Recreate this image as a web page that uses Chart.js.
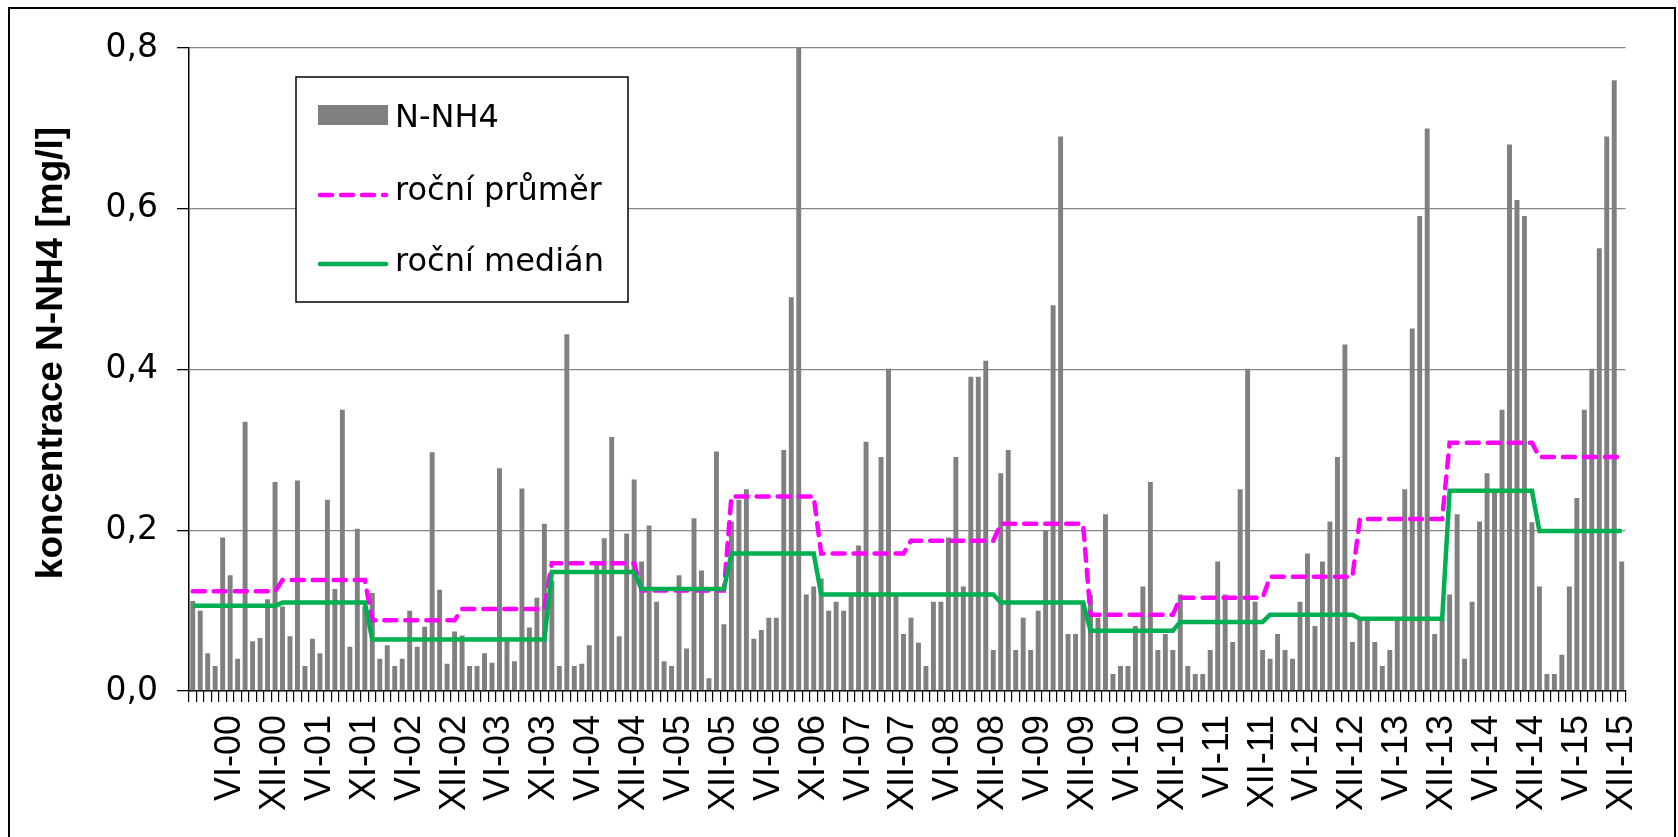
<!DOCTYPE html>
<html>
<head>
<meta charset="utf-8">
<script src="https://cdn.jsdelivr.net/npm/chart.js@4.4.1/dist/chart.umd.min.js"></script>
<style>
  html, body { margin: 0; padding: 0; background: #fff; }
</style>
</head>
<body>
<canvas id="c" width="1678" height="837"></canvas>
<script>
// ---- data: monthly N-NH4, 2000-2015 (12 per row) ----
const nh4 = [
  0.112, 0.100, 0.047, 0.031, 0.191, 0.144, 0.040, 0.335, 0.062, 0.066, 0.114, 0.260, // 2000
  0.105, 0.068, 0.262, 0.031, 0.065, 0.047, 0.238, 0.127, 0.350, 0.055, 0.202, 0.105, // 2001
  0.122, 0.040, 0.057, 0.031, 0.040, 0.100, 0.055, 0.080, 0.297, 0.126, 0.034, 0.074, // 2002
  0.069, 0.031, 0.031, 0.047, 0.035, 0.277, 0.062, 0.037, 0.252, 0.079, 0.116, 0.208, // 2003
  0.137, 0.031, 0.444, 0.031, 0.034, 0.057, 0.161, 0.190, 0.316, 0.068, 0.196, 0.263, // 2004
  0.161, 0.206, 0.111, 0.037, 0.031, 0.144, 0.053, 0.215, 0.150, 0.016, 0.298, 0.083, // 2005
  0.211, 0.238, 0.251, 0.065, 0.076, 0.091, 0.091, 0.300, 0.490, 0.800, 0.120, 0.130, // 2006
  0.140, 0.100, 0.111, 0.100, 0.120, 0.181, 0.310, 0.120, 0.291, 0.401, 0.120, 0.071, // 2007
  0.091, 0.060, 0.031, 0.111, 0.111, 0.191, 0.291, 0.130, 0.391, 0.391, 0.411, 0.051, // 2008
  0.271, 0.300, 0.051, 0.091, 0.051, 0.100, 0.200, 0.480, 0.690, 0.071, 0.071, 0.110, // 2009
  0.120, 0.091, 0.220, 0.021, 0.031, 0.031, 0.081, 0.130, 0.260, 0.051, 0.071, 0.051, // 2010
  0.120, 0.031, 0.021, 0.021, 0.051, 0.161, 0.120, 0.061, 0.251, 0.401, 0.111, 0.051, // 2011
  0.040, 0.071, 0.051, 0.040, 0.111, 0.171, 0.081, 0.161, 0.211, 0.291, 0.431, 0.061, // 2012
  0.090, 0.090, 0.061, 0.031, 0.051, 0.090, 0.251, 0.451, 0.591, 0.700, 0.071, 0.090, // 2013
  0.120, 0.220, 0.040, 0.111, 0.211, 0.271, 0.250, 0.350, 0.680, 0.611, 0.591, 0.210, // 2014
  0.130, 0.021, 0.021, 0.045, 0.130, 0.240, 0.350, 0.401, 0.551, 0.690, 0.760, 0.161  // 2015
];

// roční hodnoty 2000..2015
const annualMean   = [0.124, 0.138, 0.088, 0.102, 0.159, 0.125, 0.242, 0.171, 0.187, 0.208, 0.095, 0.116, 0.142, 0.214, 0.309, 0.291];
const annualMedian = [0.106, 0.110, 0.064, 0.064, 0.148, 0.127, 0.171, 0.120, 0.120, 0.110, 0.075, 0.086, 0.095, 0.090, 0.249, 0.199];

// popisky osy x (kazdy 6. mesic, od indexu 5)
const tickLabels = ["VI-00", "XII-00", "VI-01", "XI-01", "VI-02", "XII-02", "VI-03", "XI-03",
  "VI-04", "XII-04", "VI-05", "XII-05", "VI-06", "XI-06", "VI-07", "XII-07",
  "VI-08", "XII-08", "VI-09", "XII-09", "VI-10", "XII-10", "VI-11", "XII-11",
  "VI-12", "XII-12", "VI-13", "XII-13", "VI-14", "XII-14", "VI-15", "XII-15"];

const categories = nh4.map((_, i) => i);
// each month carries the value of its year
const meanSeries = categories.map(i => annualMean[Math.floor(i / 12)]);
const medianSeries = categories.map(i => annualMedian[Math.floor(i / 12)]);

// ---- pluginy ----
const framePlugin = {
  id: "frame",
  beforeDraw(chart) {
    const ctx = chart.ctx;
    ctx.save();
    ctx.fillStyle = "#fff";
    ctx.fillRect(0, 0, chart.width, chart.height);
    ctx.restore();
  },
  afterDraw(chart) {
    const ctx = chart.ctx;
    ctx.save();
    ctx.strokeStyle = "#000";
    ctx.lineWidth = 2;
    ctx.strokeRect(9, 8, 1666, 850);
    // y title
    ctx.translate(62, 353);
    ctx.rotate(-Math.PI / 2);
    ctx.fillStyle = "#000";
    ctx.font = 'bold 37px "Liberation Sans"';
    ctx.textAlign = "center";
    ctx.textBaseline = "alphabetic";
    ctx.fillText("koncentrace N-NH4 [mg/l]", 0, 0);
    ctx.restore();
  }
};

const legendPlugin = {
  id: "legendBox",
  afterDatasetsDraw(chart) {
    const ctx = chart.ctx;
    const ds = chart.data.datasets;
    ctx.save();
    ctx.fillStyle = "#fff";
    ctx.fillRect(296, 77, 332, 225);
    ctx.strokeStyle = "#000";
    ctx.lineWidth = 1.5;
    ctx.strokeRect(296, 77, 332, 225);

    ctx.font = '32px "DejaVu Sans"';
    ctx.fillStyle = "#000";
    ctx.textAlign = "left";
    ctx.textBaseline = "alphabetic";

    // bar
    ctx.fillStyle = ds[0].backgroundColor;
    ctx.fillRect(318, 105, 70, 20);
    ctx.fillStyle = "#000";
    ctx.fillText(ds[0].label, 395, 127);

    // mean
    ctx.strokeStyle = ds[1].borderColor;
    ctx.lineWidth = ds[1].borderWidth;
    ctx.lineCap = "round";
    ctx.setLineDash(ds[1].borderDash);
    ctx.beginPath();
    ctx.moveTo(320, 195);
    ctx.lineTo(386, 195);
    ctx.stroke();
    ctx.setLineDash([]);
    ctx.fillText(ds[1].label, 395, 200);

    // median
    ctx.strokeStyle = ds[2].borderColor;
    ctx.lineWidth = ds[2].borderWidth;
    ctx.beginPath();
    ctx.moveTo(320, 264);
    ctx.lineTo(386, 264);
    ctx.stroke();
    ctx.fillText(ds[2].label, 395, 271);
    ctx.restore();
  }
};

new Chart(document.getElementById("c"), {
  data: {
    labels: categories,
    datasets: [
      {
        type: "bar",
        label: "N-NH4",
        data: nh4,
        backgroundColor: "#808080",
        barPercentage: 0.66,
        categoryPercentage: 1,
        order: 3
      },
      {
        type: "line",
        label: "roční průměr",
        data: meanSeries,
        borderColor: "#FF00FF",
        borderWidth: 4.5,
        borderDash: [12, 9],
        borderCapStyle: "round",
        pointRadius: 0,
        tension: 0,
        order: 2
      },
      {
        type: "line",
        label: "roční medián",
        data: medianSeries,
        borderColor: "#00B050",
        borderWidth: 4.5,
        pointRadius: 0,
        tension: 0,
        order: 1
      }
    ]
  },
  options: {
    responsive: false,
    animation: false,
    layout: { padding: { top: 48, right: 34, bottom: 0, left: 0 } },
    plugins: {
      legend: { display: false },
      tooltip: { enabled: false }
    },
    scales: {
      x: {
        type: "category",
        offset: true,
        grid: { offset: true, drawOnChartArea: false, drawTicks: true, tickLength: 11, tickColor: "#000", lineWidth: 1.2 },
        border: { color: "#000", width: 1.5 },
        ticks: {
          autoSkip: false,
          minRotation: 90,
          maxRotation: 90,
          padding: 13,
          color: "#000",
          font: { family: "Liberation Sans", size: 36 },
          callback: (v, i) => ((i - 5) % 6 === 0 && i >= 5) ? tickLabels[(i - 5) / 6] : ""
        },
        afterFit: s => { s.height = 146; }
      },
      y: {
        min: 0,
        max: 0.8,
        ticks: {
          stepSize: 0.2,
          padding: 19,
          color: "#000",
          font: { family: "DejaVu Sans", size: 33 },
          callback: v => v.toFixed(1).replace(".", ",")
        },
        grid: { color: "#868686", lineWidth: 1.3, tickColor: "#000", tickLength: 12 },
        border: { color: "#000", width: 1.5 },
        afterFit: s => { s.width = 189; }
      }
    }
  },
  plugins: [framePlugin, legendPlugin]
});
</script>
</body>
</html>
